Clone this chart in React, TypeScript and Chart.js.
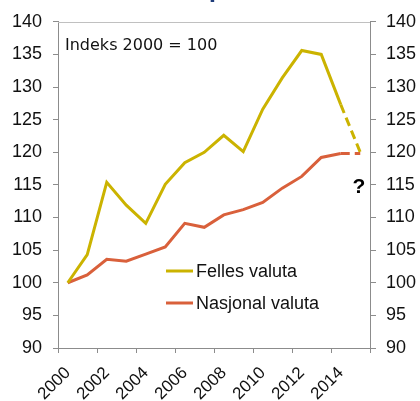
import React, { useEffect, useRef } from "react";
import { Chart, registerables } from "chart.js";

Chart.register(...registerables);

const years = ["2000", "2001", "2002", "2003", "2004", "2005", "2006", "2007", "2008", "2009", "2010", "2011", "2012", "2013", "2014", "2015"];
const felles = [100, 104.3, 115.4, 111.9, 109.1, 115.1, 118.4, 120.0, 122.6, 120.1, 126.6, 131.4, 135.6, 135.0, 127.3, 120.0];
const nasjonal = [100, 101.2, 103.6, 103.3, 104.4, 105.5, 109.1, 108.5, 110.4, 111.2, 112.3, 114.5, 116.3, 119.2, 119.8, 119.8];
const yMin = 90;
const yMax = 140;
const yStep = 5;
const annotationText = "Indeks 2000 = 100";
const legendLabels = ["Felles valuta", "Nasjonal valuta"];
const questionMark = "?";

const YELLOW = "#CBB300";
const RED = "#D9603B";
const AXIS = "#8c8c8c";
const TEXT = "#111111";
const lastIndex = years.length - 1;

const overlay = {
  id: "overlay",
  afterDraw(chart: any) {
    const { ctx, chartArea } = chart;
    ctx.save();
    // top border
    ctx.strokeStyle = "#c0c0c0";
    ctx.lineWidth = 1;
    ctx.beginPath();
    ctx.moveTo(chartArea.left, Math.round(chartArea.top) + 0.5);
    ctx.lineTo(chartArea.right, Math.round(chartArea.top) + 0.5);
    ctx.stroke();

    // partial title glyph
    ctx.fillStyle = "#1F3D7A";
    ctx.font = "bold 20px 'DejaVu Sans'";
    ctx.textBaseline = "alphabetic";
    ctx.textAlign = "left";
    ctx.fillText("p", 209, -2);

    // annotation
    ctx.fillStyle = TEXT;
    ctx.font = "16px 'DejaVu Sans'";
    ctx.textBaseline = "middle";
    ctx.fillText(annotationText, 65, 46);

    // legend
    const colors = [YELLOW, RED];
    const ys = [271, 303];
    ctx.font = "18px 'Liberation Sans'";
    for (let i = 0; i < legendLabels.length; i++) {
      ctx.strokeStyle = colors[i];
      ctx.lineWidth = 3;
      ctx.beginPath();
      ctx.moveTo(166, ys[i]);
      ctx.lineTo(193, ys[i]);
      ctx.stroke();
      ctx.fillStyle = TEXT;
      ctx.fillText(legendLabels[i], 196, ys[i] + 1);
    }

    // question mark
    ctx.font = "bold 21px 'Liberation Sans'";
    ctx.textAlign = "center";
    ctx.fillStyle = "#000";
    ctx.fillText(questionMark, 359, 187);
    ctx.restore();
  },
};

export default function App() {
  const ref = useRef<HTMLCanvasElement>(null);
  useEffect(() => {
    if (!ref.current) return;
    const dashSeg = (c: any) => (c.p1DataIndex === lastIndex ? [9, 5] : undefined);
    const yTicks = (pos: string) => ({
      type: "linear" as const,
      position: pos,
      min: yMin,
      max: yMax,
      afterFit: (s: any) => {
        s.width = pos === "left" ? 58 : 50;
      },
      ticks: {
        stepSize: yStep,
        color: TEXT,
        font: { family: "'Liberation Sans'", size: 18 },
        padding: pos === "left" ? 11 : 10,
      },
      grid: { drawOnChartArea: false, drawTicks: true, tickLength: pos === "left" ? 5 : 6, color: AXIS },
      border: { display: true, color: AXIS, width: 1 },
    });
    const chart = new Chart(ref.current, {
      type: "line",
      data: {
        labels: years,
        datasets: [
          {
            label: legendLabels[0],
            data: felles,
            borderColor: YELLOW,
            backgroundColor: YELLOW,
            borderWidth: 3,
            pointRadius: 0,
            tension: 0,
            yAxisID: "y",
            segment: { borderDash: dashSeg },
          },
          {
            label: legendLabels[1],
            data: nasjonal,
            borderColor: RED,
            backgroundColor: RED,
            borderWidth: 3,
            pointRadius: 0,
            tension: 0,
            yAxisID: "y",
            segment: { borderDash: dashSeg },
          },
        ],
      },
      options: {
        responsive: false,
        animation: false,
        layout: { padding: { top: 21, left: 0, right: 0, bottom: 0 } },
        plugins: { legend: { display: false }, tooltip: { enabled: false }, title: { display: false } },
        scales: {
          x: {
            type: "category",
            offset: true,
            afterFit: (s: any) => {
              s.height = 53;
            },
            ticks: {
              autoSkip: false,
              minRotation: 45,
              maxRotation: 45,
              color: TEXT,
              font: { family: "'Liberation Sans'", size: 17 },
              padding: 10,
              callback: (_v: any, i: number) => (i % 2 === 0 ? years[i] : ""),
            },
            grid: {
              offset: true,
              drawOnChartArea: false,
              drawTicks: true,
              tickLength: 5,
              color: (c: any) => (c.index === undefined || c.index % 2 === 0 ? AXIS : "rgba(0,0,0,0)"),
            },
            border: { display: true, color: AXIS, width: 1 },
          },
          y: yTicks("left") as any,
          y2: yTicks("right") as any,
        },
      },
      plugins: [overlay],
    });
    return () => chart.destroy();
  }, []);
  return (
    <div style={{ position: "fixed", left: 0, top: 0, width: 420, height: 401, background: "#fff" }}>
      <canvas ref={ref} width={420} height={401} />
    </div>
  );
}
